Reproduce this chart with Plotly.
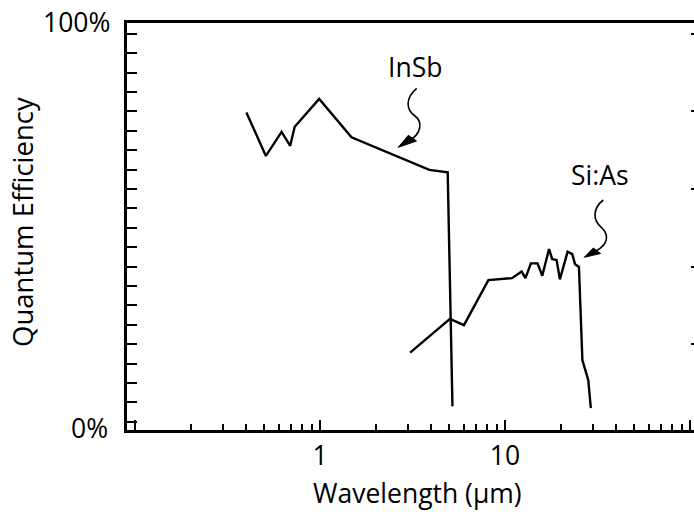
import plotly.graph_objects as go

# ---- data (wavelength in micrometres, quantum efficiency in %) ----
insb_wavelength = [0.40, 0.51, 0.62, 0.69, 0.73, 0.99, 1.48, 2.2, 3.9, 4.9, 5.2]
insb_qe = [79.7, 68.5, 74.7, 71.1, 76.0, 83.2, 73.3, 69.9, 64.9, 64.3, 4.0]

sias_wavelength = [3.07, 5.04, 6.0, 8.13, 10.9, 12.3, 12.9, 13.8, 15.0, 15.9, 17.3,
                   18.0, 19.0, 19.8, 21.8, 23.1, 23.9, 25.1, 26.2, 28.2, 29.1]
sias_qe = [17.8, 26.5, 24.9, 36.5, 37.0, 38.7, 37.0, 40.8, 40.8, 37.6, 44.5,
           41.9, 41.7, 36.7, 43.8, 43.2, 40.6, 39.9, 15.9, 10.7, 3.5]

x_major_ticks = [0.1, 1, 10, 100]
x_major_labels = ["", "1", "10", ""]
x_minor_ticks = [m * d for d in (0.1, 1, 10) for m in range(2, 10)]
y_left_ticks = list(range(0, 101, 5))
y_right_ticks = [20, 40, 60, 80, 100]

FONT = "Open Sans"
FS = 26.5

# plot-area geometry (pixels) for decorations
W, H = 694, 512
L, R, T, B = 127, 694, 23, 430


def px(x, y):
    return (x - L) / (R - L), (B - y) / (B - T)


def path(points_cmds):
    out = []
    for cmd, pts in points_cmds:
        if cmd == "L":
            for p in pts:
                out.append("L %.5f,%.5f" % px(*p))
        else:
            coords = " ".join("%.5f,%.5f" % px(*p) for p in pts)
            out.append(cmd + " " + coords)
    return " ".join(out)


fig = go.Figure()
fig.add_trace(go.Scatter(x=insb_wavelength, y=insb_qe, mode="lines",
                         line=dict(color="black", width=2.4), showlegend=False,
                         hoverinfo="skip"))
fig.add_trace(go.Scatter(x=sias_wavelength, y=sias_qe, mode="lines",
                         line=dict(color="black", width=2.4), showlegend=False,
                         hoverinfo="skip"))
fig.add_trace(go.Scatter(x=[], y=[], yaxis="y2", showlegend=False))

yr = [-2.14, 102.76]

fig.update_layout(
    width=W, height=H,
    margin=dict(l=L, r=W - R, t=T, b=H - B),
    paper_bgcolor="white", plot_bgcolor="white",
    font=dict(family=FONT, size=FS, color="black"),
    xaxis=dict(type="log", range=[-1.0432, 2.0216],
               showline=True, linewidth=3, linecolor="black", mirror=True,
               showgrid=False, zeroline=False,
               ticks="inside", ticklen=10, tickwidth=2, tickcolor="black",
               tickmode="array", tickvals=x_major_ticks, ticktext=x_major_labels,
               tickfont=dict(family=FONT, size=FS, color="black"),
               minor=dict(ticks="inside", ticklen=6, tickwidth=2, tickcolor="black",
                          tickmode="array", tickvals=x_minor_ticks, showgrid=False)),
    yaxis=dict(range=yr, showline=True, linewidth=3, linecolor="black", mirror=False,
               showgrid=False, zeroline=False,
               ticks="inside", ticklen=10, tickwidth=2, tickcolor="black",
               tickmode="array", tickvals=y_left_ticks, showticklabels=False),
    yaxis2=dict(range=yr, overlaying="y", side="right", showline=False,
                showgrid=False, zeroline=False,
                ticks="inside", ticklen=3, tickwidth=2, tickcolor="black",
                tickmode="array", tickvals=y_right_ticks, showticklabels=False),
)

annos = [
    dict(text="100%", x=px(112, 0)[0], y=px(0, 22)[1], xanchor="right", yanchor="middle"),
    dict(text="0%", x=px(110, 0)[0], y=px(0, 428)[1], xanchor="right", yanchor="middle"),
    dict(text="Wavelength (μm)", x=px(417.5, 0)[0], y=px(0, 493)[1], xanchor="center", yanchor="middle"),
    dict(text="Quantum Efficiency", x=px(22, 0)[0], y=px(0, 222)[1], textangle=-90,
         xanchor="center", yanchor="middle", font_size=27.5),
    dict(text="InSb", x=px(415, 0)[0], y=px(0, 67)[1], xanchor="center", yanchor="middle"),
    dict(text="Si:As", x=px(600, 0)[0], y=px(0, 175)[1], xanchor="center", yanchor="middle"),
]
for a in annos:
    size = a.pop("font_size", FS)
    a.update(xref="paper", yref="paper", showarrow=False,
             font=dict(family=FONT, size=size, color="black"))
    fig.add_annotation(**a)

# squiggly arrows
squiggles = [
    [("M", [(416.7, 88.3)]), ("C", [(405, 98), (406, 110), (415, 116)]),
     ("C", [(423, 122), (421, 134), (410, 140)])],
    [("M", [(603.3, 200)]), ("C", [(593, 208), (592, 220), (602, 228)]),
     ("C", [(610, 236), (607, 245), (596, 251)])],
]
heads = [
    [(398.3, 147.3), (408.3, 135.3), (416.5, 141.0)],
    [(584.3, 257.3), (593.3, 248.0), (600.5, 253.5)],
]
for s in squiggles:
    fig.add_shape(type="path", xref="paper", yref="paper", path=path(s),
                  line=dict(color="black", width=1.6))
for h in heads:
    fig.add_shape(type="path", xref="paper", yref="paper",
                  path=path([("M", [h[0]]), ("L", [h[1], h[2]])]) + " Z",
                  fillcolor="black", line=dict(color="black", width=1))

fig.write_html("out.html", config={"displayModeBar": False},
               post_script="document.body.style.margin='0';document.body.style.overflow='hidden';")
